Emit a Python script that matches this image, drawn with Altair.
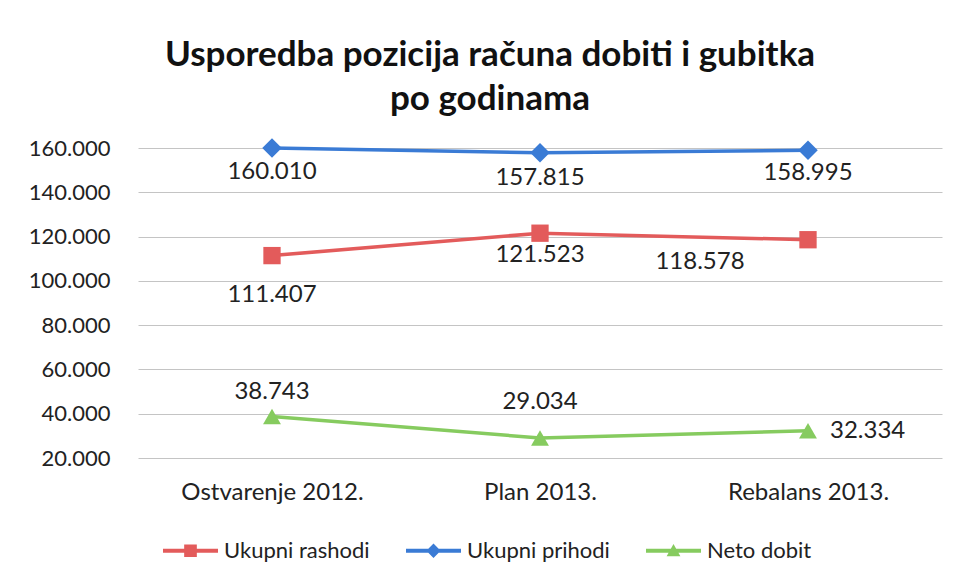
import altair as alt
import pandas as pd

categories = ["Ostvarenje 2012.", "Plan 2013.", "Rebalans 2013."]
series_names = ["Ukupni rashodi", "Ukupni prihodi", "Neto dobit"]
rashodi = [111407, 121523, 118578]
prihodi = [160010, 157815, 158995]
neto = [38743, 29034, 32334]
y_ticks = [20000, 40000, 60000, 80000, 100000, 120000, 140000, 160000]

colors = ["#E35B5B", "#3A7BD5", "#86CB5F"]
marker_shapes = ["square", "diamond", "triangle-up"]
# legend symbols: a thin bar (line) plus the marker, as filled paths
legend_paths = [
    "M-1,-0.07H1V0.07H-1Z M-0.23,-0.23H0.23V0.23H-0.23Z",
    "M-1,-0.07H1V0.07H-1Z M0,-0.26L0.26,0L0,0.26L-0.26,0Z",
    "M-1,-0.07H1V0.07H-1Z M-0.25,0.2L0,-0.25L0.25,0.2Z",
]

# label placement per (series, category): (dx, dy, align)
placement = {
    ("Ukupni rashodi", "Ostvarenje 2012."): (0, 39, "center"),
    ("Ukupni rashodi", "Plan 2013."): (0, 22, "center"),
    ("Ukupni rashodi", "Rebalans 2013."): (-108, 22, "center"),
    ("Ukupni prihodi", "Ostvarenje 2012."): (0, 24, "center"),
    ("Ukupni prihodi", "Plan 2013."): (0, 25, "center"),
    ("Ukupni prihodi", "Rebalans 2013."): (0, 23, "center"),
    ("Neto dobit", "Ostvarenje 2012."): (0, -24, "center"),
    ("Neto dobit", "Plan 2013."): (0, -36, "center"),
    ("Neto dobit", "Rebalans 2013."): (22, 0, "left"),
}

rows = []
for s, vals in zip(series_names, [rashodi, prihodi, neto]):
    for c, v in zip(categories, vals):
        dx, dy, al = placement[(s, c)]
        rows.append({
            "kategorija": c, "serija": s, "vrijednost": v,
            "oznaka": f"{v:,}".replace(",", "."),
            "grp": f"{dx}|{dy}|{al}",
        })
df = pd.DataFrame(rows)

FONT = "Lato"

x_enc = alt.X("kategorija:N", sort=categories,
              scale=alt.Scale(type="point", padding=0.5),
              axis=alt.Axis(title=None, labelAngle=0, labelFontSize=24, labelFont=FONT,
                            labelColor="#222222", labelPadding=22, ticks=False,
                            labelLimit=400, domain=False, grid=False))
y_enc = alt.Y("vrijednost:Q",
              scale=alt.Scale(domain=[20000, 160000], nice=False, zero=False),
              axis=alt.Axis(title=None, values=y_ticks,
                            labelExpr="replace(format(datum.value, ',d'), ',', '.')",
                            labelFontSize=22, labelFont=FONT, labelColor="#222222",
                            labelPadding=28, ticks=False, domain=False,
                            gridColor="#c4c4c4", gridWidth=1))

color_scale = alt.Scale(domain=series_names, range=colors)
col_nolegend = alt.Color("serija:N", scale=color_scale, sort=series_names, legend=None)

base = alt.Chart(df)

lines = base.mark_line(strokeWidth=3.5).encode(
    x=x_enc, y=y_enc, color=col_nolegend, detail="serija:N",
)

point_layers = []
for s, shp, sz in zip(series_names, marker_shapes, [300, 380, 320]):
    point_layers.append(
        base.transform_filter(alt.datum.serija == s).mark_point(
            shape=shp, filled=True, size=sz, opacity=1
        ).encode(x=x_enc, y=y_enc, color=col_nolegend)
    )

text_layers = []
for g in df["grp"].unique():
    dx, dy, al = g.split("|")
    text_layers.append(
        base.transform_filter(alt.datum.grp == g).mark_text(
            dx=int(dx), dy=int(dy), align=al, baseline="middle",
            font=FONT, fontSize=24, color="#222222"
        ).encode(x=x_enc, y=y_enc, text="oznaka:N")
    )

main = alt.layer(lines, *point_layers, *text_layers)

legend_spec = alt.Legend(title=None, orient="none", legendX=25, legendY=375,
                         direction="horizontal", symbolSize=3025,
                         symbolStrokeWidth=0, symbolOpacity=1,
                         labelFont=FONT, labelFontSize=22, labelColor="#222222",
                         columnPadding=36, labelOffset=6, labelLimit=400)

legend_layer = base.mark_point(filled=True, opacity=0).encode(
    x=x_enc, y=y_enc,
    color=alt.Color("serija:N", sort=series_names,
                    scale=alt.Scale(domain=series_names, range=colors),
                    legend=legend_spec),
    shape=alt.Shape("serija:N", sort=series_names,
                    scale=alt.Scale(domain=series_names, range=legend_paths),
                    legend=legend_spec),
)

chart = alt.layer(main, legend_layer).resolve_scale(
    color="independent", shape="independent"
).resolve_legend(
    color="independent", shape="independent"
).properties(
    width=804, height=310,
    background="white",
    title=alt.TitleParams(
        ["Usporedba pozicija računa dobiti i gubitka", "po godinama"],
        font=FONT, fontSize=35, fontWeight="bold", color="#111111",
        anchor="middle", dx=-50, offset=20, lineHeight=44,
    ),
    autosize=alt.AutoSizeParams(type="none"),
    padding={"left": 138, "top": 148, "right": 20, "bottom": 123},
).configure_view(stroke=None)

chart.save("out.html", embed_options={"renderer": "svg", "actions": False})
